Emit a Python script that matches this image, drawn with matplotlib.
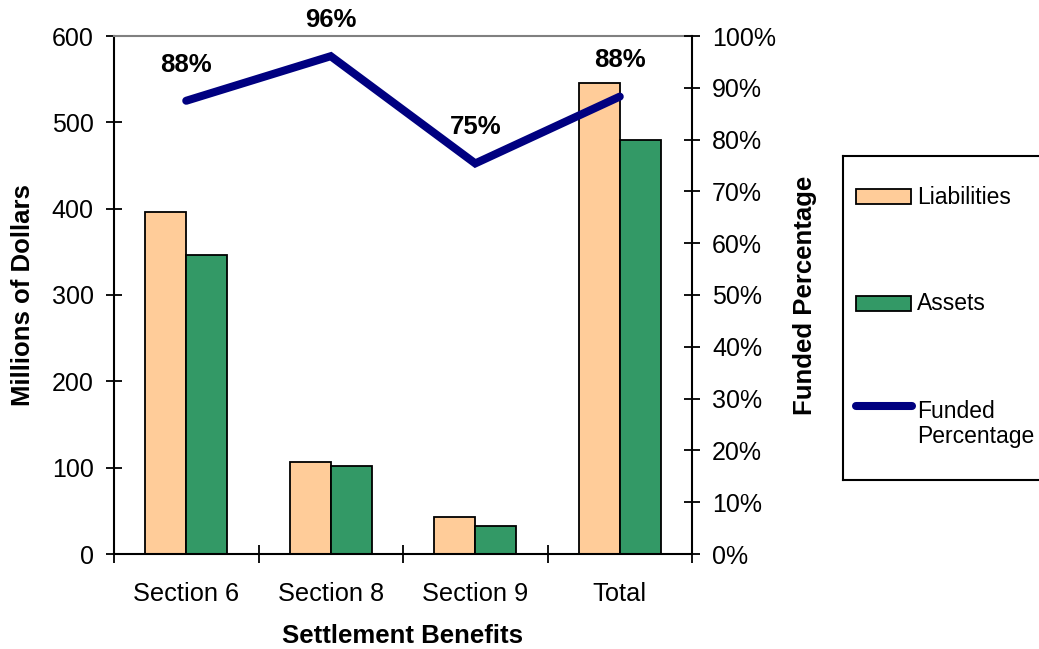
import numpy as np
import matplotlib.pyplot as plt
from matplotlib.patches import Rectangle
from matplotlib.lines import Line2D
from matplotlib.ticker import MultipleLocator, FixedLocator, NullFormatter

plt.rcParams['font.family'] = ['Liberation Sans', 'DejaVu Sans']

categories = ['Section 6', 'Section 8', 'Section 9', 'Total']
liabilities = [396, 107, 43, 545]
assets = [346, 102, 32, 480]
funded_pct = [87.5, 96.1, 75.4, 88.3]

col_liab = '#FFCC99'
col_assets = '#339966'
col_line = '#000080'

fig = plt.figure(figsize=(10.39, 6.49), dpi=100)
W, H = 1039, 649
ax = fig.add_axes([114 / W, 95 / H, 578 / W, 518 / H])
ax2 = ax.twinx()

x = np.arange(len(categories))
bw = 0.284
ax.bar(x - bw / 2, liabilities, bw, color=col_liab, edgecolor='black', linewidth=1.3, zorder=2)
ax.bar(x + bw / 2, assets, bw, color=col_assets, edgecolor='black', linewidth=1.3, zorder=2)

ax.set_xlim(-0.5, len(categories) - 0.5)
ax.set_ylim(0, 600)
ax.yaxis.set_major_locator(MultipleLocator(100))
ax.tick_params(axis='y', direction='inout', length=11, width=1.3, labelsize=18, pad=9)

# category boundaries get the tick marks, names sit in between
ax.xaxis.set_major_locator(FixedLocator(np.arange(-0.5, len(categories), 1.0)))
ax.xaxis.set_major_formatter(NullFormatter())
ax.xaxis.set_minor_locator(FixedLocator(x))
ax.set_xticks(x, categories, minor=True)
ax.tick_params(axis='x', which='major', direction='inout', length=13, width=1.3)
ax.tick_params(axis='x', which='minor', length=0, labelsize=18.3, pad=20)

ax.set_ylabel('Millions of Dollars', fontsize=18.5, fontweight='bold', labelpad=12)
ax.set_xlabel('Settlement Benefits', fontsize=18.5, fontweight='bold', labelpad=13)

for s in ['left', 'bottom']:
    ax.spines[s].set_linewidth(1.5)
ax.spines['right'].set_visible(False)
ax.spines['top'].set_color('#808080')
ax.spines['top'].set_linewidth(1.5)

ax2.plot(x, funded_pct, color=col_line, linewidth=5.8, solid_capstyle='round',
         solid_joinstyle='miter', zorder=3)
for xi, v in zip(x, funded_pct):
    ax2.annotate(f'{v:.0f}%', (xi, v), xytext=(0, 26), textcoords='offset points',
                 ha='center', va='center', fontsize=18.5, fontweight='bold',
                 annotation_clip=False)
ax2.set_ylim(0, 100)
ax2.yaxis.set_major_locator(MultipleLocator(10))
ax2.yaxis.set_major_formatter(lambda v, p: f'{v:.0f}%')
ax2.tick_params(axis='y', direction='inout', length=11, width=1.3, labelsize=18, pad=9)
ax2.set_ylabel('Funded Percentage', fontsize=18.5, fontweight='bold', labelpad=12)
ax2.spines['right'].set_linewidth(1.5)
for s in ['left', 'top', 'bottom']:
    ax2.spines[s].set_visible(False)

# legend panel, laid out in pixel units
lax = fig.add_axes([843 / W, (H - 480) / H, 220 / W, 324 / H])
lax.set_xlim(843, 1063)
lax.set_ylim(480, 156)
lax.set_xticks([])
lax.set_yticks([])
for s in lax.spines.values():
    s.set_linewidth(1.5)
lax.add_patch(Rectangle((856, 189), 55, 15, facecolor=col_liab, edgecolor='black', linewidth=1.3))
lax.add_patch(Rectangle((856, 296), 55, 15, facecolor=col_assets, edgecolor='black', linewidth=1.3))
lax.add_line(Line2D([856, 912], [406, 406], color=col_line, linewidth=5.8, solid_capstyle='round'))
lax.text(917, 197, 'Liabilities', fontsize=16.5, va='center', ha='left')
lax.text(917, 303, 'Assets', fontsize=16.5, va='center', ha='left')
lax.text(917, 424, 'Funded\nPercentage', fontsize=16.5, va='center', ha='left', linespacing=1.15)

fig.savefig('out.png', dpi=100)
